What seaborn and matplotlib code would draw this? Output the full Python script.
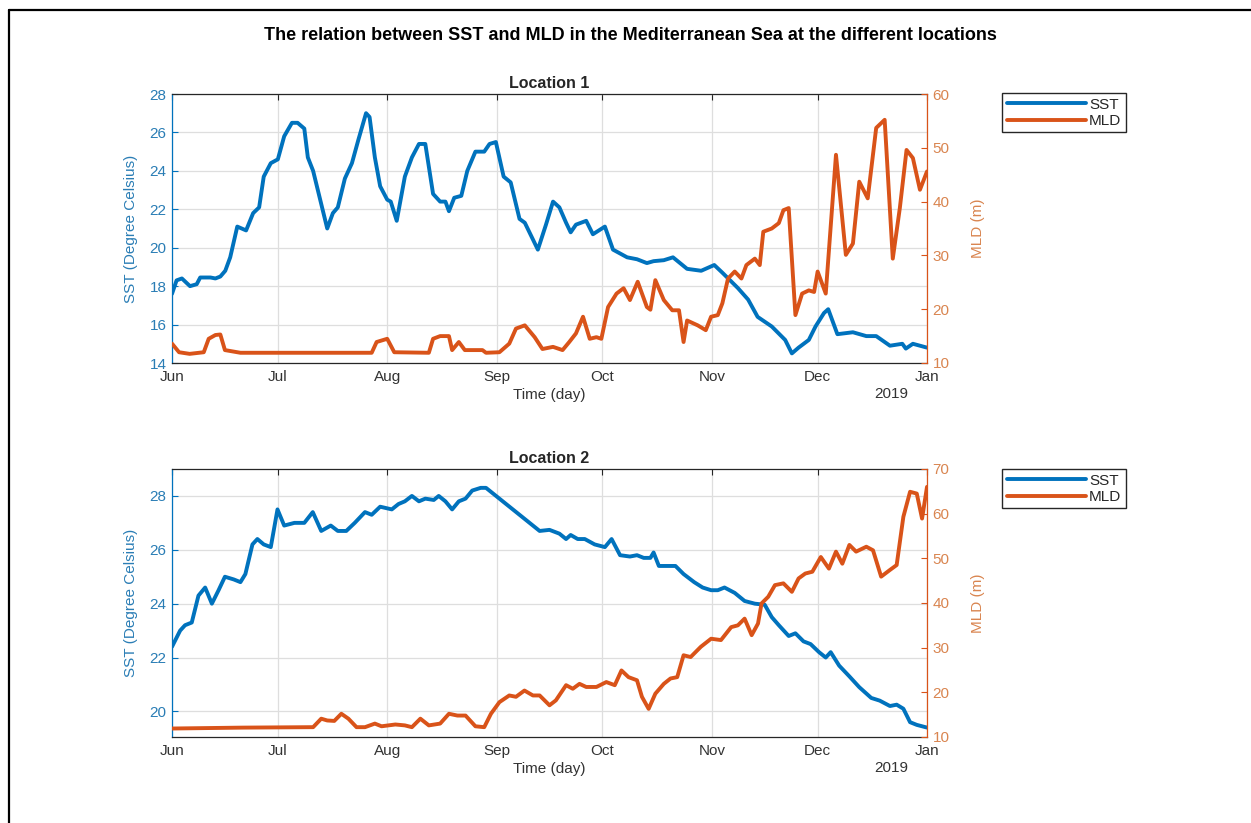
import numpy as np
import pandas as pd
import matplotlib
matplotlib.use("Agg")
import matplotlib.pyplot as plt
from matplotlib.lines import Line2D
import seaborn as sns

# ---------------- data (days since 2018-06-01) ----------------
START = pd.Timestamp("2018-06-01")

loc1_sst_day = [0, 1.3, 2.8, 5.1, 7, 8, 10.9, 12.3, 13.7, 15.1, 16.5, 18.5, 21, 23, 24.7, 26, 28, 30,
                31.8, 34, 35.6, 37.5, 38.5, 40, 42, 44, 45.6, 47, 49, 51, 52.8, 55, 56, 57.5, 59, 61,
                62, 63.7, 66, 68, 70, 71.8, 74, 76, 77.5, 78.5, 80, 82, 83.7, 86, 88.5, 90, 91.8, 94,
                96, 98.5, 100, 103.7, 106, 108, 109.8, 111.7, 113, 114.5, 117.4, 119.3, 122.7, 125,
                129, 131.8, 134.6, 136.5, 139.4, 142, 146, 150, 153.7, 156, 160.4, 163.3, 166, 170,
                173.8, 175.7, 177.6, 180.5, 182.4, 184.8, 186, 188.6, 193, 196.8, 199.6, 203.5, 207,
                208, 210, 214]
loc1_sst = [17.6, 18.3, 18.4, 18.0, 18.1, 18.45, 18.45, 18.4, 18.5, 18.8, 19.5, 21.1, 20.9, 21.8, 22.1,
            23.7, 24.4, 24.6, 25.8, 26.5, 26.5, 26.2, 24.7, 24.0, 22.5, 21.0, 21.8, 22.1, 23.6, 24.4,
            25.6, 27.0, 26.8, 24.7, 23.2, 22.5, 22.4, 21.4, 23.7, 24.7, 25.4, 25.4, 22.8, 22.4, 22.4,
            21.9, 22.6, 22.7, 24.0, 25.0, 25.0, 25.4, 25.5, 23.7, 23.4, 21.5, 21.3, 19.9, 21.2, 22.4,
            22.1, 21.3, 20.8, 21.2, 21.4, 20.7, 21.1, 19.9, 19.5, 19.4, 19.2, 19.3, 19.35, 19.5, 18.9,
            18.8, 19.1, 18.7, 17.9, 17.3, 16.4, 15.9, 15.2, 14.5, 14.8, 15.2, 15.9, 16.6, 16.8, 15.5,
            15.6, 15.4, 15.4, 14.9, 15.0, 14.75, 15.0, 14.8]

loc1_mld_day = [0, 2, 5, 9, 10.4, 12.3, 13.7, 15, 19.4, 56.6, 58, 61, 63, 72.8, 74, 76, 78.5, 79.4,
                81.3, 83, 88, 89, 92.8, 95.6, 97.5, 100, 102.8, 105, 108, 110.7, 112.6, 114.5, 116.5,
                118.4, 120.3, 121.7, 123.6, 126, 128, 129.8, 132, 134.6, 135.6, 137, 139.4, 141.8,
                143.7, 145, 146, 149, 151.3, 152.8, 154.7, 156, 157.6, 159.5, 161.4, 162.8, 165.2,
                166.6, 167.6, 170, 172, 173.3, 174.8, 176.7, 178.6, 180.5, 182, 183, 185.3, 188.2,
                191, 193, 194.8, 197.2, 199.6, 202, 204.3, 206.3, 208.2, 210, 212, 214]
loc1_mld = [13.6, 12.0, 11.7, 12.0, 14.5, 15.2, 15.3, 12.4, 11.9, 11.9, 13.9, 14.5, 12.0, 11.9, 14.5,
            15.0, 15.0, 12.4, 13.9, 12.4, 12.4, 11.9, 12.0, 13.6, 16.4, 17.0, 14.8, 12.6, 13.0, 12.4,
            13.9, 15.5, 18.6, 14.5, 14.8, 14.5, 20.4, 22.9, 23.9, 21.7, 25.1, 20.4, 19.9, 25.4, 21.7,
            19.8, 19.8, 13.9, 17.9, 17.0, 16.1, 18.6, 18.9, 21.1, 25.7, 27.0, 25.7, 28.2, 29.4, 28.2,
            34.4, 35.0, 36.0, 38.4, 38.8, 18.9, 22.9, 23.5, 23.2, 27.0, 22.9, 48.7, 30.1, 32.2, 43.7,
            40.6, 53.7, 55.2, 29.4, 38.8, 49.6, 48.1, 42.2, 45.6]

loc2_sst_day = [0, 2.3, 3.7, 5.6, 7.5, 9.4, 11.3, 13.2, 15, 17.5, 19.4, 20.8, 22.8, 24.2, 26, 28, 29.9,
                31.8, 34.7, 37.5, 39.9, 42.3, 45, 47, 49.4, 51.8, 54.7, 56.6, 59, 62.3, 64.2, 66, 68,
                70, 71.8, 74.2, 75.6, 77.5, 79.4, 81.3, 83.2, 85.1, 87.5, 89, 90.9, 92.8, 94.7, 96.6,
                98.5, 100.4, 102.3, 104.2, 107, 109.8, 111.7, 113, 115, 117, 119.8, 122.7, 124.6, 127,
                129.8, 131.8, 133.7, 135.6, 136.5, 138, 139.9, 142.7, 145, 148, 150.4, 152.8, 154.7,
                156.6, 159.5, 162.3, 165.2, 168, 170, 172, 174.8, 176.7, 179, 181, 183.4, 185.3, 186.7,
                189.1, 192, 194.8, 198.2, 200.6, 203.5, 205.4, 207.3, 209.2, 211.1, 214]
loc2_sst = [22.4, 23.0, 23.2, 23.3, 24.3, 24.6, 24.0, 24.5, 25.0, 24.9, 24.8, 25.1, 26.2, 26.4, 26.2,
            26.1, 27.5, 26.9, 27.0, 27.0, 27.4, 26.7, 26.9, 26.7, 26.7, 27.0, 27.4, 27.3, 27.6, 27.5,
            27.7, 27.8, 28.0, 27.8, 27.9, 27.85, 28.0, 27.8, 27.5, 27.8, 27.9, 28.2, 28.3, 28.3, 28.1,
            27.9, 27.7, 27.5, 27.3, 27.1, 26.9, 26.7, 26.74, 26.6, 26.4, 26.55, 26.4, 26.4, 26.2, 26.1,
            26.4, 25.8, 25.75, 25.8, 25.7, 25.7, 25.9, 25.4, 25.4, 25.4, 25.1, 24.8, 24.6, 24.5, 24.5,
            24.6, 24.4, 24.1, 24.0, 23.96, 23.5, 23.2, 22.8, 22.9, 22.6, 22.5, 22.2, 22.0, 22.2, 21.7,
            21.3, 20.9, 20.5, 20.4, 20.2, 20.25, 20.1, 19.6, 19.5, 19.4]

loc2_mld_day = [0, 20, 39.4, 40, 42.3, 44, 46, 48, 50, 52.3, 54.7, 57.5, 59.4, 63.3, 66, 68, 70.4, 72.8,
                76, 78.5, 80.9, 83.2, 86, 88.5, 90.4, 92.8, 95.6, 97.5, 99.9, 102.3, 104.2, 107, 108.8,
                111.7, 113.6, 115.5, 117.4, 120.3, 123.1, 125.5, 127.4, 129.4, 131.8, 133.2, 135.1,
                137, 139.4, 141.3, 143.2, 145, 147, 149.9, 152.8, 155.6, 158.5, 160.4, 162.3, 164.3,
                166.1, 167.1, 169, 170.9, 173.3, 175.7, 177.6, 179.5, 181.5, 183.9, 186.2, 188.2, 190,
                192, 193.9, 196.8, 198.7, 201, 203.5, 205.4, 207.3, 209.2, 211.1, 212.6, 214]
loc2_mld = [11.9, 12.1, 12.2, 12.2, 14.1, 13.7, 13.6, 15.2, 14.1, 12.2, 12.2, 13.0, 12.4, 12.8, 12.6,
            12.2, 14.1, 12.6, 13.0, 15.2, 14.8, 14.8, 12.4, 12.2, 15.2, 17.8, 19.3, 19.0, 20.4, 19.3,
            19.3, 17.1, 18.2, 21.6, 20.8, 21.9, 21.2, 21.2, 22.3, 21.6, 24.9, 23.4, 22.7, 19.0, 16.3,
            19.7, 21.9, 23.1, 23.4, 28.3, 27.9, 30.2, 32.0, 31.7, 34.6, 35.0, 36.5, 32.8, 35.4, 39.9,
            41.4, 44.0, 44.4, 42.5, 45.5, 46.6, 47.0, 50.3, 47.7, 51.5, 48.8, 53.0, 51.5, 52.6, 51.8,
            45.9, 47.4, 48.5, 59.3, 64.9, 64.5, 58.9, 66.0]

panel_titles = ["Location 1", "Location 2"]
sst_limits = [(14, 28), (19.05, 29.0)]
sst_ticks = [[14, 16, 18, 20, 22, 24, 26, 28], [20, 22, 24, 26, 28]]
mld_limits = [(10, 60), (10, 70)]
mld_ticks = [[10, 20, 30, 40, 50, 60], [10, 20, 30, 40, 50, 60, 70]]
month_ticks = ["2018-06-01", "2018-07-01", "2018-08-01", "2018-09-01", "2018-10-01",
               "2018-11-01", "2018-12-01", "2019-01-01"]
month_labels = ["Jun", "Jul", "Aug", "Sep", "Oct", "Nov", "Dec", "Jan"]


def to_frame(days, values):
    return pd.DataFrame({"date": START + pd.to_timedelta(days, unit="D"), "value": values})


panels = [
    (to_frame(loc1_sst_day, loc1_sst), to_frame(loc1_mld_day, loc1_mld)),
    (to_frame(loc2_sst_day, loc2_sst), to_frame(loc2_mld_day, loc2_mld)),
]

# ---------------- styling ----------------
sns.set_style("white")
plt.rcParams["font.family"] = ["Liberation Sans", "DejaVu Sans"]

BLUE = "#0072BD"
ORANGE = "#D95319"
BLUE_TXT = "#2a7db5"
ORANGE_TXT = "#d98550"
DARK = "#262626"
GRID = "#dedede"
FS = 11

W, H = 1251, 823
fig = plt.figure(figsize=(W / 100, H / 100), dpi=100)
fig.patch.set_facecolor("white")

# outer frame (top and left edges)
fig.add_artist(Line2D([9 / W, 9 / W], [0, 1 - 10 / H], color="black", lw=1.6, transform=fig.transFigure))
fig.add_artist(Line2D([9 / W, 1], [1 - 10 / H, 1 - 10 / H], color="black", lw=1.6, transform=fig.transFigure))

fig.text(630 / W, 1 - 35 / H,
         "The relation between SST and MLD in the Mediterranean Sea at the different locations",
         ha="center", va="center", fontsize=13, fontweight="bold", color="black")

axes_px = [(172, 94, 927, 363), (172, 469, 927, 737)]
legend_px = [(1002, 93), (1002, 469)]

xt = pd.to_datetime(month_ticks)
xmin, xmax = pd.Timestamp("2018-06-01"), pd.Timestamp("2019-01-01")

for i, ((sst_df, mld_df), (x0, y0, x1, y1)) in enumerate(zip(panels, axes_px)):
    ax = fig.add_axes([x0 / W, 1 - y1 / H, (x1 - x0) / W, (y1 - y0) / H])
    ax2 = ax.twinx()

    sns.lineplot(data=sst_df, x="date", y="value", ax=ax, color=BLUE, lw=2.8, legend=False)
    sns.lineplot(data=mld_df, x="date", y="value", ax=ax2, color=ORANGE, lw=2.8, legend=False)

    ax.set_xlim(xmin, xmax)
    ax.set_ylim(*sst_limits[i])
    ax.set_yticks(sst_ticks[i])
    ax2.set_ylim(*mld_limits[i])
    ax2.set_yticks(mld_ticks[i])
    ax.set_xticks(xt)
    ax.set_xticklabels(month_labels)

    ax.grid(True, color=GRID, lw=0.9)
    ax2.grid(False)
    ax.set_axisbelow(True)

    ax.tick_params(axis="x", direction="in", length=4, width=0.8, colors=DARK, labelcolor="#333333",
                   labelsize=FS, pad=5, top=True)
    ax.tick_params(axis="y", direction="in", length=4, width=0.8, colors=BLUE, labelcolor=BLUE_TXT,
                   labelsize=FS, pad=4)
    ax2.tick_params(axis="y", direction="in", length=4, width=0.8, colors=ORANGE, labelcolor=ORANGE_TXT,
                    labelsize=FS, pad=4)

    for s in ("top", "bottom"):
        ax.spines[s].set_color(DARK)
        ax.spines[s].set_linewidth(0.9)
    ax.spines["left"].set_color(BLUE)
    ax.spines["left"].set_linewidth(0.9)
    ax2.spines["right"].set_color(ORANGE)
    ax2.spines["right"].set_linewidth(0.9)
    for s in ("top", "bottom", "left"):
        ax2.spines[s].set_visible(False)
    ax.spines["right"].set_visible(False)

    ax.set_xlabel("Time (day)", fontsize=FS, color="#333333")
    ax.xaxis.set_label_coords(0.5, -0.092)
    ax.set_ylabel("SST (Degree Celsius)", fontsize=FS, color=BLUE_TXT)
    ax.yaxis.set_label_coords(-0.045, 0.5)
    ax2.set_ylabel("MLD (m)", fontsize=FS, color=ORANGE_TXT)
    ax2.yaxis.set_label_coords(1.058, 0.5)

    ax.set_title(panel_titles[i], fontsize=11.5, fontweight="bold", pad=4)
    ax.text(0.952, -0.115, "2019", transform=ax.transAxes, ha="center", va="center",
            fontsize=FS, color="#333333")

    handles = [Line2D([], [], color=BLUE, lw=2.8), Line2D([], [], color=ORANGE, lw=2.8)]
    lx, ly = legend_px[i]
    fig.legend(handles, ["SST", "MLD"], loc="upper left", bbox_to_anchor=(lx / W, 1 - ly / H),
               frameon=True, fancybox=False, edgecolor=DARK, framealpha=1, fontsize=FS,
               handlelength=5.2, handletextpad=0.2, borderpad=0.3, labelspacing=0.15,
               borderaxespad=0)

fig.savefig("out.png", dpi=100, facecolor="white")
